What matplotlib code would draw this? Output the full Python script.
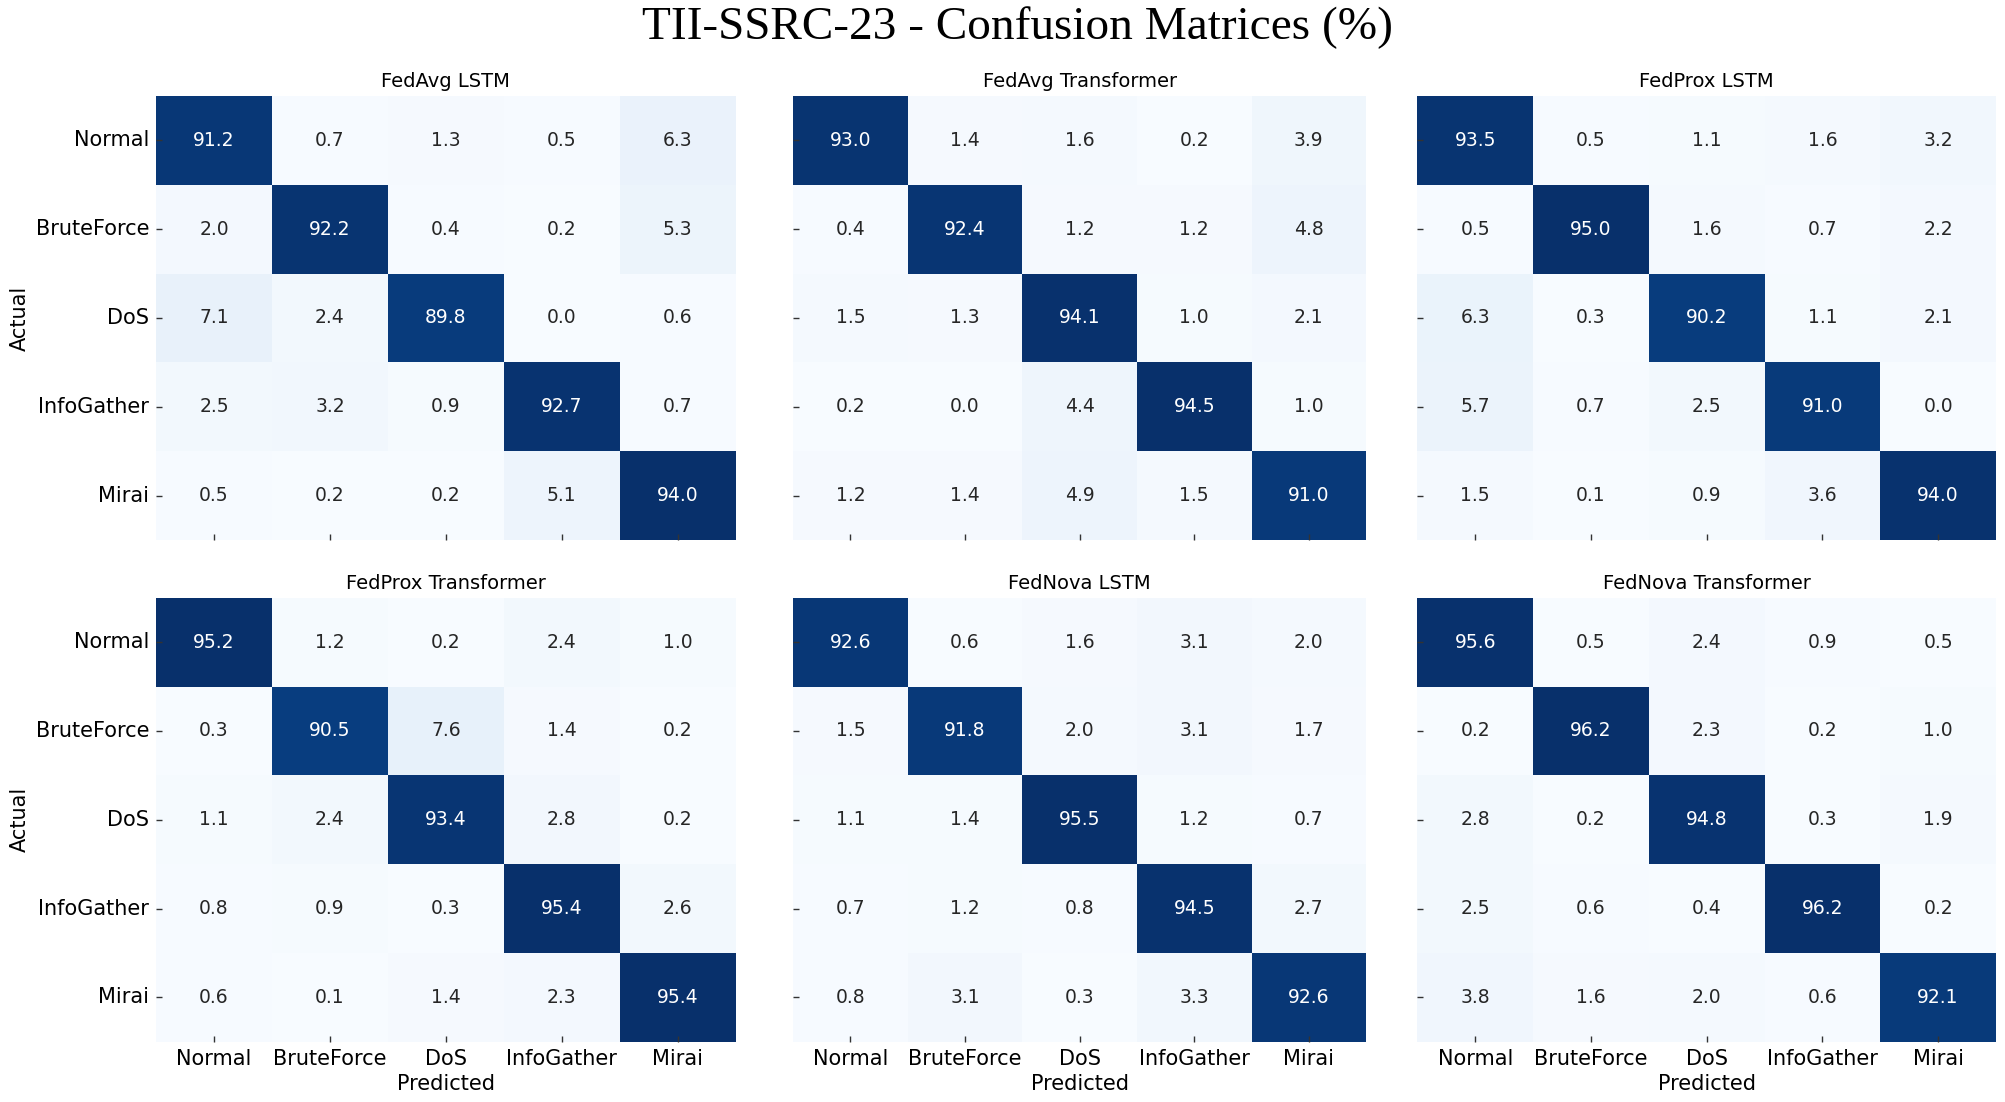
import numpy as np
import matplotlib
matplotlib.use("Agg")
import matplotlib.pyplot as plt
import seaborn as sns

classes = ["Normal", "BruteForce", "DoS", "InfoGather", "Mirai"]
titles = ["FedAvg LSTM", "FedAvg Transformer", "FedProx LSTM",
          "FedProx Transformer", "FedNova LSTM", "FedNova Transformer"]

fedavg_lstm = [[91.2, 0.7, 1.3, 0.5, 6.3],
               [2.0, 92.2, 0.4, 0.2, 5.3],
               [7.1, 2.4, 89.8, 0.0, 0.6],
               [2.5, 3.2, 0.9, 92.7, 0.7],
               [0.5, 0.2, 0.2, 5.1, 94.0]]
fedavg_transformer = [[93.0, 1.4, 1.6, 0.2, 3.9],
                      [0.4, 92.4, 1.2, 1.2, 4.8],
                      [1.5, 1.3, 94.1, 1.0, 2.1],
                      [0.2, 0.0, 4.4, 94.5, 1.0],
                      [1.2, 1.4, 4.9, 1.5, 91.0]]
fedprox_lstm = [[93.5, 0.5, 1.1, 1.6, 3.2],
                [0.5, 95.0, 1.6, 0.7, 2.2],
                [6.3, 0.3, 90.2, 1.1, 2.1],
                [5.7, 0.7, 2.5, 91.0, 0.0],
                [1.5, 0.1, 0.9, 3.6, 94.0]]
fedprox_transformer = [[95.2, 1.2, 0.2, 2.4, 1.0],
                       [0.3, 90.5, 7.6, 1.4, 0.2],
                       [1.1, 2.4, 93.4, 2.8, 0.2],
                       [0.8, 0.9, 0.3, 95.4, 2.6],
                       [0.6, 0.1, 1.4, 2.3, 95.4]]
fednova_lstm = [[92.6, 0.6, 1.6, 3.1, 2.0],
                [1.5, 91.8, 2.0, 3.1, 1.7],
                [1.1, 1.4, 95.5, 1.2, 0.7],
                [0.7, 1.2, 0.8, 94.5, 2.7],
                [0.8, 3.1, 0.3, 3.3, 92.6]]
fednova_transformer = [[95.6, 0.5, 2.4, 0.9, 0.5],
                       [0.2, 96.2, 2.3, 0.2, 1.0],
                       [2.8, 0.2, 94.8, 0.3, 1.9],
                       [2.5, 0.6, 0.4, 96.2, 0.2],
                       [3.8, 1.6, 2.0, 0.6, 92.1]]

matrices = [fedavg_lstm, fedavg_transformer, fedprox_lstm,
            fedprox_transformer, fednova_lstm, fednova_transformer]

fig = plt.figure(figsize=(20.06, 11.02), dpi=100)

lefts = [0.0778, 0.3954, 0.7066]
widths = [0.2889, 0.2856, 0.2884]
bottoms = [0.510, 0.0546]
height = 0.403

for i, (mat, title) in enumerate(zip(matrices, titles)):
    r, c = divmod(i, 3)
    ax = fig.add_axes([lefts[c], bottoms[r], widths[c], height])
    sns.heatmap(np.array(mat), ax=ax, cmap="Blues", annot=True, fmt=".1f",
                cbar=False, annot_kws={"fontsize": 13.5},
                xticklabels=classes, yticklabels=classes)
    ax.set_title(title, fontsize=14, pad=6.5)
    ax.tick_params(axis="both", direction="in", length=4.5, width=1,
                   color="#333333", pad=5)
    if c == 0:
        ax.set_yticklabels(classes, rotation=0, fontsize=15)
        ax.set_ylabel("Actual", fontsize=15)
    else:
        ax.set_yticklabels([])
        ax.set_ylabel("")
    if r == 1:
        ax.set_xticklabels(classes, rotation=0, fontsize=15)
        ax.set_xlabel("Predicted", fontsize=15, labelpad=4)
    else:
        ax.set_xticklabels([])
        ax.set_xlabel("")

fig.suptitle("TII-SSRC-23 - Confusion Matrices (%)", fontsize=34,
             family="Liberation Serif", x=0.507, y=0.994, va="top")

fig.savefig("out.png", dpi=100)
